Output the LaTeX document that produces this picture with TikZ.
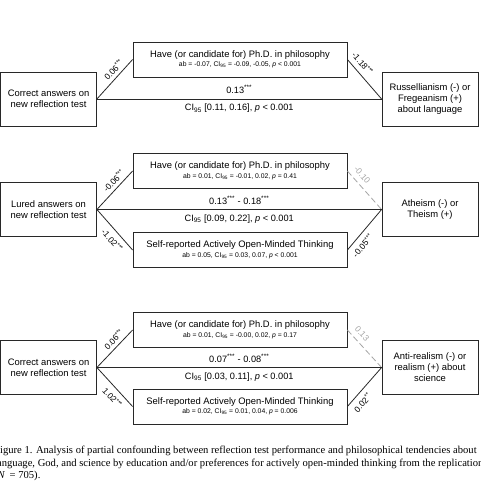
\documentclass[tikz,border=0pt]{standalone}
\usepackage{fontspec}
\setsansfont{Liberation Sans}
\newfontfamily\capfont{Liberation Serif}
\usetikzlibrary{positioning}
\definecolor{medline}{RGB}{40,40,40}
\definecolor{nsgray}{RGB}{165,165,165}
\newcommand{\sig}[1]{\textsuperscript{#1}}
\newcommand{\cin}{CI\textsubscript{95}}
\newcommand{\abline}[1]{\\[-1.5pt]{\fontsize{6.8}{7.5}\selectfont #1}}

\begin{document}
\begin{tikzpicture}[x=1pt, y=-1pt,
        endbox/.style={draw=medline, line width=0.8pt, minimum width=96pt, minimum height=54pt, align=center, font=\sffamily\fontsize{9.4}{11}\selectfont},
        medbox/.style={draw=medline, line width=0.8pt, minimum width=214pt, minimum height=35pt, align=center, font=\sffamily\fontsize{9.4}{11}\selectfont},
        path/.style={draw=medline, line width=0.8pt},
        nspath/.style={draw=nsgray, line width=0.8pt, dash pattern=on 6pt off 3pt},
        coef/.style={font=\sffamily\fontsize{8.5}{10}\selectfont, sloped},
        coefin/.style={coef, pos=0.62},
        coefout/.style={coef, pos=0.25, inner sep=5pt},
        nscoef/.style={coefout, text=nsgray},
        total/.style={font=\sffamily\fontsize{9.2}{11}\selectfont, midway, inner sep=4.8pt}
      ]
      \useasboundingbox (0,0) rectangle (480,504);

      % language
      \node[endbox] (cor1) at (48.5,99) {Correct answers on\\new reflection test};
      \node[medbox] (phd1) at (240,59.5) {Have (or candidate for) Ph.D. in philosophy\abline{ab = -0.07, \cin{} = -0.09, -0.05, \textit{p} < 0.001}};
      \node[endbox] (lang) at (430,99) {Russellianism (-) or\\Fregeanism (+)\\about language};
      \draw[path] (cor1.east) -- (phd1.west) node[coefin, above] {0.06\sig{***}};
      \draw[path] (phd1.east) -- (lang.west) node[coefout, above] {-1.18\sig{***}};
      \draw[path] (cor1.east) -- (lang.west)
        node[total, above] {0.13\sig{***}}
        node[total, below] {\cin{} [0.11, 0.16], \textit{p} < 0.001};

      % god
      \node[endbox] (lur2) at (48.5,209.5) {Lured answers on\\new reflection test};
      \node[medbox] (phd2) at (240,171) {Have (or candidate for) Ph.D. in philosophy\abline{ab = 0.01, \cin{} = -0.01, 0.02, \textit{p} = 0.41}};
      \node[medbox] (aot2) at (240,250) {Self-reported Actively Open-Minded Thinking\abline{ab = 0.05, \cin{} = 0.03, 0.07, \textit{p} < 0.001}};
      \node[endbox] (god) at (430,209.5) {Atheism (-) or\\Theism (+)};
      \draw[path] (lur2.east) -- (phd2.west) node[coefin, above] {-0.06\sig{***}};
      \draw[path] (lur2.east) -- (aot2.west) node[coefin, below, inner sep=5pt] {-1.02\sig{***}};
      \draw[nspath] (phd2.east) -- (god.west) node[nscoef, above] {-0.10};
      \draw[path] (aot2.east) -- (god.west) node[coefout, below] {-0.05\sig{***}};
      \draw[path] (lur2.east) -- (god.west)
        node[total, above] {0.13\sig{***} - 0.18\sig{***}}
        node[total, below] {\cin{} [0.09, 0.22], \textit{p} < 0.001};

      % science
      \node[endbox] (cor3) at (48.5,367.5) {Correct answers on\\new reflection test};
      \node[medbox] (phd3) at (240,330) {Have (or candidate for) Ph.D. in philosophy\abline{ab = 0.01, \cin{} = -0.00, 0.02, \textit{p} = 0.17}};
      \node[medbox] (aot3) at (240,406.5) {Self-reported Actively Open-Minded Thinking\abline{ab = 0.02, \cin{} = 0.01, 0.04, \textit{p} = 0.006}};
      \node[endbox] (sci) at (430,367.5) {Anti-realism (-) or\\realism (+) about\\science};
      \draw[path] (cor3.east) -- (phd3.west) node[coefin, above] {0.06\sig{***}};
      \draw[path] (cor3.east) -- (aot3.west) node[coefin, below, inner sep=5pt] {1.02\sig{***}};
      \draw[nspath] (phd3.east) -- (sci.west) node[nscoef, above] {0.13};
      \draw[path] (aot3.east) -- (sci.west) node[coefout, below] {0.02\sig{**}};
      \draw[path] (cor3.east) -- (sci.west)
        node[total, above] {0.07\sig{***} - 0.08\sig{***}}
        node[total, below] {\cin{} [0.03, 0.11], \textit{p} < 0.001};

      \node[anchor=north west, inner sep=0pt, align=left, font=\capfont\fontsize{10.6}{12.5}\selectfont] (caption) at (-6,446)
        {Figure 1. Analysis of partial confounding between reflection test performance and philosophical tendencies about\\
         language, God, and science by education and/or preferences for actively open-minded thinking from the replication\\
         (\textit{N}\, = 705).};
    \end{tikzpicture}
\end{document}
